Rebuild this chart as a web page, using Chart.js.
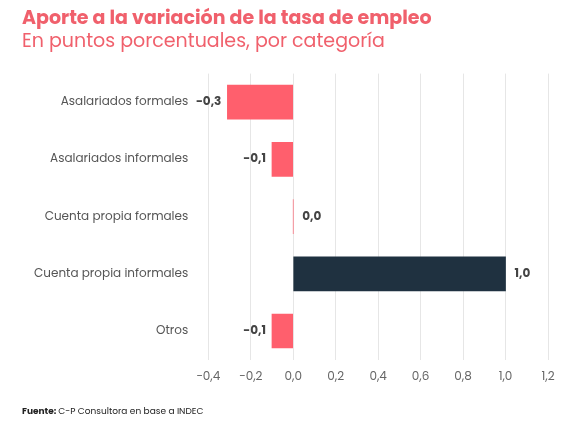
<!DOCTYPE html>
<html>
<head>
<meta charset="utf-8">
<script src="https://cdn.jsdelivr.net/npm/chart.js@4"></script>
<style>
  html, body { margin: 0; padding: 0; background: #fff; }
  #wrap { width: 576px; height: 424px; position: relative; }
</style>
</head>
<body>
<div id="wrap"><canvas id="chart"></canvas></div>
<script>
// data
const categories = ['Asalariados formales', 'Asalariados informales', 'Cuenta propia formales', 'Cuenta propia informales', 'Otros'];
const values = [-0.31, -0.1, 0.0, 1.0, -0.1];
const valueLabels = ['-0,3', '-0,1', '0,0', '1,0', '-0,1'];
const barColors = ['#ff5f6d', '#ff5f6d', '#ff5f6d', '#1f3140', '#ff5f6d'];

const FONT = 'Poppins, Inter, "Noto Sans", sans-serif';

// bold value labels next to each bar end
const valueLabelPlugin = {
    id: 'valueLabels',
    afterDatasetsDraw(chart) {
        const ctx = chart.ctx;
        const meta = chart.getDatasetMeta(0);
        ctx.save();
        ctx.font = 'bold 12px ' + FONT;
        ctx.fillStyle = '#444';
        ctx.textBaseline = 'middle';
        meta.data.forEach((bar, i) => {
            if (values[i] < 0) {
                ctx.textAlign = 'right';
                ctx.fillText(valueLabels[i], bar.x - 6, bar.y);
            } else {
                ctx.textAlign = 'left';
                ctx.fillText(valueLabels[i], bar.x + 9, bar.y);
            }
        });
        ctx.restore();
    }
};

new Chart(document.getElementById('chart'), {
    type: 'bar',
    data: {
        labels: categories,
        datasets: [{
            data: values,
            backgroundColor: barColors,
            barThickness: 34
        }]
    },
    options: {
        indexAxis: 'y',
        responsive: true,
        maintainAspectRatio: false,
        animation: false,
        layout: { padding: { left: 22, right: 28, top: 0, bottom: 30 } },
        plugins: {
            legend: { display: false },
            tooltip: { enabled: false },
            title: {
                display: true,
                text: 'Aporte a la variación de la tasa de empleo',
                align: 'start',
                color: '#f0606c',
                font: { family: FONT, size: 19, weight: 'bold' },
                padding: { top: 8, bottom: 0 }
            },
            subtitle: {
                display: true,
                text: 'En puntos porcentuales, por categoría',
                align: 'start',
                color: '#f0606c',
                font: { family: FONT, size: 19, weight: 'normal' },
                padding: { top: 0, bottom: 20 }
            }
        },
        scales: {
            x: {
                min: -0.4,
                max: 1.2,
                ticks: {
                    stepSize: 0.2,
                    color: '#666',
                    font: { family: FONT, size: 12 },
                    padding: 10,
                    callback: v => (Math.round(v * 10) / 10).toFixed(1).replace('.', ',').replace('-', '−')
                },
                grid: { color: '#e6e6e6', drawTicks: false },
                border: { display: false }
            },
            y: {
                ticks: {
                    color: '#555',
                    font: { family: FONT, size: 12 },
                    padding: 12
                },
                grid: { display: false },
                border: { display: false }
            }
        }
    },
    plugins: [valueLabelPlugin, {
        id: 'footer',
        afterDraw(chart) {
            const ctx = chart.ctx;
            ctx.save();
            ctx.font = 'bold 9px ' + FONT;
            ctx.fillStyle = '#222';
            ctx.textBaseline = 'middle';
            ctx.fillText('Fuente:', 22, 412);
            const w = ctx.measureText('Fuente: ').width;
            ctx.font = '9px ' + FONT;
            ctx.fillText('C-P Consultora en base a INDEC', 22 + w, 412);
            ctx.restore();
        }
    }]
});
</script>
</body>
</html>
